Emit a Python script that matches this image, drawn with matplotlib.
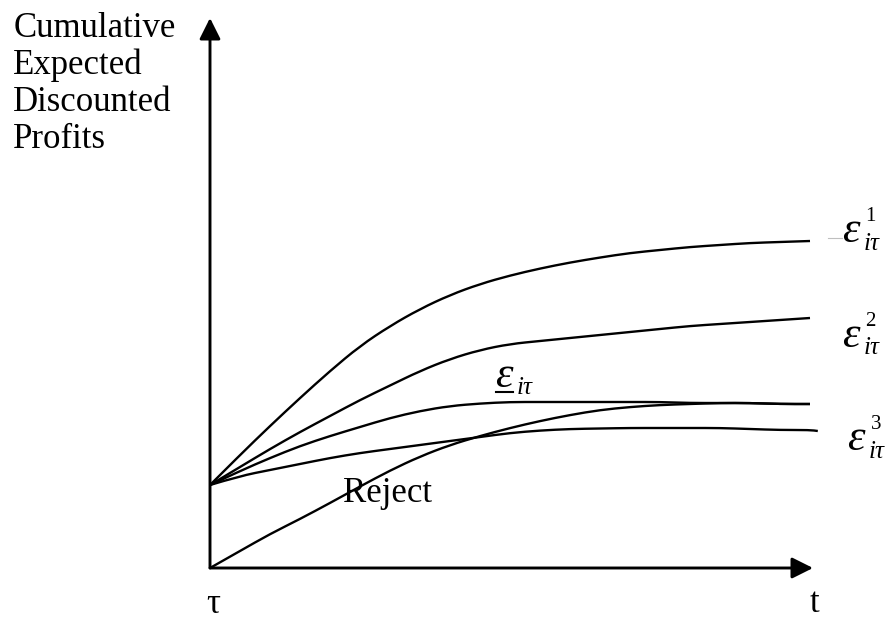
import numpy as np
import matplotlib.pyplot as plt
from matplotlib.path import Path
from matplotlib.patches import PathPatch

plt.rcParams['font.family'] = ['Liberation Serif', 'DejaVu Serif']

# time after tau (arbitrary units), sampled every half unit
t = [0, 0.5, 1, 1.5, 2, 2.5, 3, 3.5, 4, 4.5, 5,
     5.5, 6, 6.5, 7, 7.5, 8, 8.5, 9, 9.5, 10]

# cumulative expected discounted profits (arbitrary units)
eps1 = [8.3, 11.3, 14.2, 17.0, 19.7, 22.2, 24.2, 25.9, 27.3, 28.4, 29.25,
        29.95, 30.55, 31.05, 31.5, 31.8, 32.1, 32.3, 32.5, 32.6, 32.7]
eps2 = [8.3, 10.1, 11.9, 13.6, 15.2, 16.8, 18.25, 19.7, 20.9, 21.8, 22.4,
        22.7, 23.0, 23.3, 23.6, 23.9, 24.2, 24.4, 24.6, 24.8, 25.0]
eps_low = [8.3, 9.7, 11.0, 12.2, 13.2, 14.1, 15.0, 15.7, 16.2, 16.45, 16.6,
           16.6, 16.6, 16.6, 16.6, 16.6, 16.5, 16.5, 16.5, 16.4, 16.4]
eps3_t = t + [10.13]
eps3 = [8.3, 9.2, 9.8, 10.4, 11.0, 11.5, 11.9, 12.3, 12.7, 13.1, 13.5,
        13.75, 13.9, 13.95, 14.0, 14.0, 14.0, 14.0, 13.9, 13.8, 13.8, 13.7]
reject = [0.0, 1.7, 3.4, 4.9, 6.5, 8.15, 9.75, 11.15, 12.3, 13.2, 14.0,
          14.7, 15.3, 15.8, 16.1, 16.3, 16.4, 16.5, 16.5, 16.4, 16.4]

curve_labels = ['1', '2', '3']


def smooth_line(ax, xs, ys, **kw):
    """Draw a series as a smooth quadratic bezier path through its points."""
    pts = np.column_stack([xs, ys])
    verts = [pts[0]]
    codes = [Path.MOVETO]
    for i in range(1, len(pts) - 1):
        verts += [pts[i], (pts[i] + pts[i + 1]) / 2]
        codes += [Path.CURVE3, Path.CURVE3]
    verts.append(pts[-1])
    codes.append(Path.LINETO)
    ax.add_patch(PathPatch(Path(verts, codes), fill=False, **kw))


def eps_label(ax, x, y, sup=None, under=False):
    ax.text(x, y, 'ε', fontsize=32, style='italic', va='baseline')
    if sup:
        ax.text(x + 0.39, y + 2.1, sup, fontsize=15, va='baseline')
    ax.text(x + 0.36, y - 0.75, 'iτ', fontsize=18, style='italic', va='baseline')
    if under:
        ax.plot([x + 0.02, x + 0.3], [y - 0.5, y - 0.5], color='black', lw=1.5)


fig = plt.figure(figsize=(8.88, 6.2), dpi=100)
ax = fig.add_axes([0, 0, 1, 1])
ax.set_xlim(-3.5, 11.3)
ax.set_ylim(-5.2, 56.8)
ax.axis('off')

# curves
line_kw = dict(edgecolor='black', lw=1.7, capstyle='butt')
for ys in (eps1, eps2, eps_low, reject):
    smooth_line(ax, t, ys, **line_kw)
smooth_line(ax, eps3_t, eps3, **line_kw)

# axes with arrow heads
arrow = dict(arrowstyle='-|>,head_length=0.4,head_width=0.2', mutation_scale=32,
             lw=2.1, color='black', shrinkA=0, shrinkB=0)
ax.annotate('', xy=(0, 55.0), xytext=(0, 0), arrowprops=arrow)
ax.annotate('', xy=(10.05, 0), xytext=(0, 0), arrowprops=arrow)

# axis texts
ax.text(-3.28, 55.6, 'Cumulative\nExpected\nDiscounted\nProfits',
        fontsize=25, ha='left', va='top', linespacing=1.15)
ax.text(0.05, -4.5, 'τ', fontsize=25, ha='center', va='baseline')
ax.text(10.08, -4.4, 't', fontsize=25, ha='center', va='baseline')
ax.text(2.22, 6.6, 'Reject', fontsize=25, ha='left', va='baseline')

# curve labels
ax.plot([10.3, 10.53], [33.0, 33.0], color='0.75', lw=0.8)
eps_label(ax, 10.53, 32.6, curve_labels[0])
eps_label(ax, 10.53, 22.1, curve_labels[1])
eps_label(ax, 10.62, 11.8, curve_labels[2])
eps_label(ax, 4.75, 18.1, under=True)

fig.savefig('out.png', dpi=100)
